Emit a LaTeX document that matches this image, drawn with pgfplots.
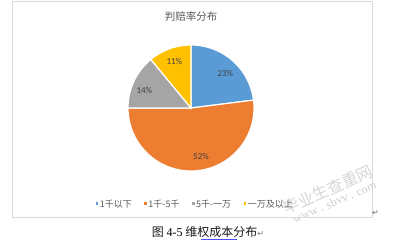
\documentclass[border=0pt]{standalone}
\usepackage{pgfplots}
\pgfplotsset{compat=1.18}
\usepackage{fontspec}
\setmainfont{Carlito}
\newfontfamily\cjk{Noto Sans CJK SC}
\newfontfamily\sym{DejaVu Sans}
\newfontfamily\tnr{Liberation Serif}
\definecolor{c1}{HTML}{5B9BD5}
\definecolor{c2}{HTML}{ED7D31}
\definecolor{c3}{HTML}{A5A5A5}
\definecolor{c4}{HTML}{FFC000}
\definecolor{framegray}{HTML}{D9D9D9}
\definecolor{txtgray}{HTML}{595959}
\definecolor{lblgray}{HTML}{404040}
\begin{document}
\begin{tikzpicture}[x=1pt,y=1pt]
\useasboundingbox (0,0) rectangle (396,241);
% watermark (behind everything)
\node[rotate=24, text=black!16, font=\cjk\fontsize{16}{18}\selectfont] at (328,51.5) {毕业生查重网};
\node[rotate=23, text=black!20, font=\tnr\fontsize{12}{14}\selectfont] at (334.5,39) {www . sbvv . com};
\begin{axis}[
  at={(12pt,24pt)}, anchor=south west,
  scale only axis, width=360pt, height=216pt,
  xmin=-179, xmax=181, ymin=-109, ymax=107,
  ticks=none,
  axis line style={draw=framegray, line width=0.8pt},
  clip=false,
  legend columns=4,
  legend style={at={(axis cs:-95.6,-95.3)}, anchor=west, draw=none, fill=none,
    inner xsep=0pt, inner ysep=0pt,
    nodes={inner sep=0pt, text depth=0pt},
    font=\cjk\fontsize{9}{10}\selectfont, text=txtgray,
    /tikz/every odd column/.append style={column sep=1.6pt},
    /tikz/every even column/.append style={column sep=12.4pt}},
  legend image code/.code={\fill[#1, draw=none] (0pt,-1.3pt) rectangle (2.6pt,1.3pt);},
]
% values: 23, 52, 14, 11 (percent), clockwise from the top
\addplot[fill=c1, draw=white, line width=1.2pt, domain={90-3.6*23}:90, samples=60, variable=\t]
  ({63*cos(\t)},{63*sin(\t)}) -- (axis cs:0,0) -- cycle;
\addlegendentry{1千以下}
\addplot[fill=c2, draw=white, line width=1.2pt, domain={90-3.6*(23+52)}:{90-3.6*23}, samples=90, variable=\t]
  ({63*cos(\t)},{63*sin(\t)}) -- (axis cs:0,0) -- cycle;
\addlegendentry{1千-5千}
\addplot[fill=c3, draw=white, line width=1.2pt, domain={90-3.6*(23+52+14)}:{90-3.6*(23+52)}, samples=40, variable=\t]
  ({63*cos(\t)},{63*sin(\t)}) -- (axis cs:0,0) -- cycle;
\addlegendentry{5千-一万}
\addplot[fill=c4, draw=white, line width=1.2pt, domain={90-3.6*(23+52+14+11)}:{90-3.6*(23+52+14)}, samples=30, variable=\t]
  ({63*cos(\t)},{63*sin(\t)}) -- (axis cs:0,0) -- cycle;
\addlegendentry{一万及以上}
\node[text=lblgray, font=\fontsize{9}{10}\selectfont] at (axis cs:34.3,34.7) {23\%};
\node[text=lblgray, font=\fontsize{9}{10}\selectfont] at (axis cs:10,-48.5) {52\%};
\node[text=lblgray, font=\fontsize{9}{10}\selectfont] at (axis cs:-46.7,17.3) {14\%};
\node[text=lblgray, font=\fontsize{9}{10}\selectfont] at (axis cs:-16.7,46.3) {11\%};
\node[text=txtgray, font=\cjk\fontsize{10.5}{12}\selectfont] at (axis cs:0,91.3) {判赔率分布};
\end{axis}
% caption
\node[anchor=west, inner sep=0pt, font=\fontsize{12}{14}\selectfont] at (151.7,9.3)
  {{\cjk\color{black!90}图} {\tnr 4-5} {\cjk\color{black!90}维权成本分布}{\sym\fontsize{8}{9}\selectfont\color{black!55}↵}};
\draw[blue!70, line width=0.5pt] (201,1.7) -- (236.7,1.7);
\node[inner sep=0pt, font=\sym\fontsize{8}{9}\selectfont, text=black!55] at (375.5,28) {↵};
\end{tikzpicture}
\end{document}
